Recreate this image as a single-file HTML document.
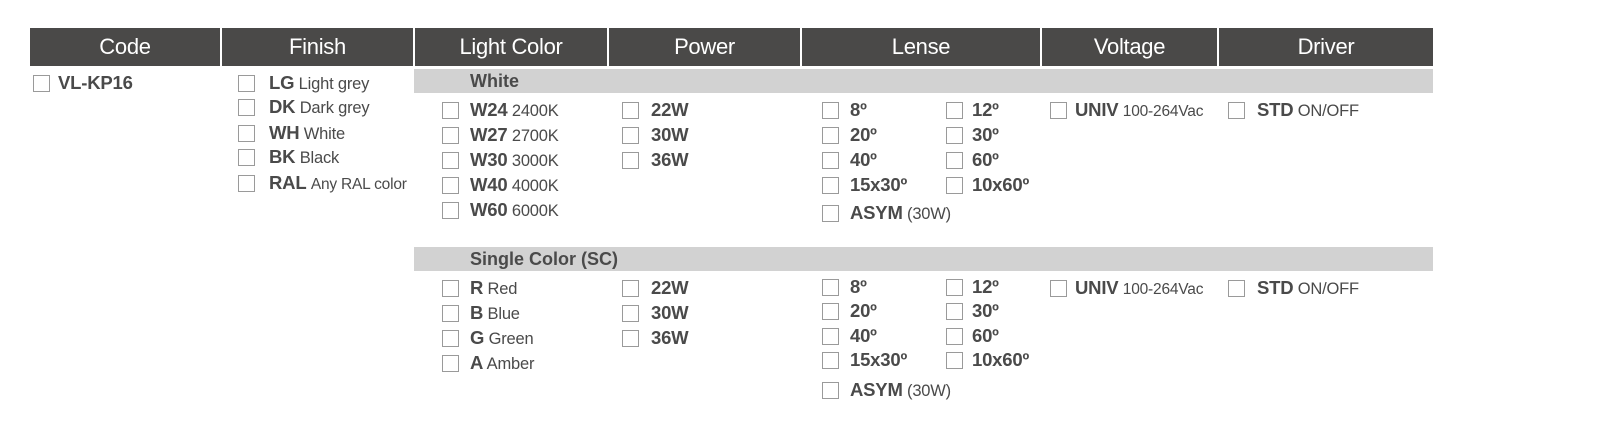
<!DOCTYPE html>
<html><head><meta charset="utf-8"><style>
body{margin:0;width:1600px;height:428px;background:#fff;position:relative;overflow:hidden;font-family:"Liberation Sans",sans-serif;color:#4a4a4a}
.h{position:absolute;top:28px;height:38px;background:#4a4948;color:#fff;font-size:22px;line-height:38px;text-align:center;letter-spacing:-0.3px}
.bar{position:absolute;left:414px;width:1019px;height:24px;background:#d2d2d2;font-weight:bold;font-size:18px;line-height:24px;padding-left:56px;box-sizing:border-box}
.i{position:absolute;height:20px;line-height:20px;font-size:16.5px;white-space:nowrap;letter-spacing:-0.2px}
.i b{font-size:18.5px}
.c{position:absolute;left:0;top:2px;width:15px;height:15px;border:1px solid #9a9a9a;background:#fff}
</style></head><body>
<div class="h" style="left:30px;width:190px">Code</div>
<div class="h" style="left:222px;width:191px">Finish</div>
<div class="h" style="left:415px;width:192px">Light Color</div>
<div class="h" style="left:609px;width:191px">Power</div>
<div class="h" style="left:802px;width:238px">Lense</div>
<div class="h" style="left:1042px;width:175px">Voltage</div>
<div class="h" style="left:1219px;width:214px">Driver</div>

<div class="bar" style="top:69px">White</div>
<div class="bar" style="top:247px">Single Color (SC)</div>

<div class="i" style="left:33px;top:73px;padding-left:25px"><span class="c"></span><b>VL-KP16</b></div>

<div class="i" style="left:238px;top:73px;padding-left:31px"><span class="c"></span><b>LG</b> Light grey</div>
<div class="i" style="left:238px;top:97px;padding-left:31px"><span class="c"></span><b>DK</b> Dark grey</div>
<div class="i" style="left:238px;top:123px;padding-left:31px"><span class="c"></span><b>WH</b> White</div>
<div class="i" style="left:238px;top:147px;padding-left:31px"><span class="c"></span><b>BK</b> Black</div>
<div class="i" style="left:238px;top:173px;padding-left:31px"><span class="c"></span><b>RAL</b> <span style="font-size:15.5px">Any RAL color</span></div>

<div class="i" style="left:442px;top:100px;padding-left:28px"><span class="c"></span><b>W24</b> 2400K</div>
<div class="i" style="left:442px;top:125px;padding-left:28px"><span class="c"></span><b>W27</b> 2700K</div>
<div class="i" style="left:442px;top:150px;padding-left:28px"><span class="c"></span><b>W30</b> 3000K</div>
<div class="i" style="left:442px;top:175px;padding-left:28px"><span class="c"></span><b>W40</b> 4000K</div>
<div class="i" style="left:442px;top:200px;padding-left:28px"><span class="c"></span><b>W60</b> 6000K</div>

<div class="i" style="left:622px;top:100px;padding-left:29px"><span class="c"></span><b>22W</b></div>
<div class="i" style="left:622px;top:125px;padding-left:29px"><span class="c"></span><b>30W</b></div>
<div class="i" style="left:622px;top:150px;padding-left:29px"><span class="c"></span><b>36W</b></div>

<div class="i" style="left:822px;top:100px;padding-left:28px"><span class="c"></span><b>8º</b></div>
<div class="i" style="left:822px;top:125px;padding-left:28px"><span class="c"></span><b>20º</b></div>
<div class="i" style="left:822px;top:150px;padding-left:28px"><span class="c"></span><b>40º</b></div>
<div class="i" style="left:822px;top:175px;padding-left:28px"><span class="c"></span><b>15x30º</b></div>
<div class="i" style="left:822px;top:203px;padding-left:28px"><span class="c"></span><b>ASYM</b> (30W)</div>
<div class="i" style="left:946px;top:100px;padding-left:26px"><span class="c"></span><b>12º</b></div>
<div class="i" style="left:946px;top:125px;padding-left:26px"><span class="c"></span><b>30º</b></div>
<div class="i" style="left:946px;top:150px;padding-left:26px"><span class="c"></span><b>60º</b></div>
<div class="i" style="left:946px;top:175px;padding-left:26px"><span class="c"></span><b>10x60º</b></div>

<div class="i" style="left:1050px;top:100px;padding-left:25px"><span class="c"></span><b>UNIV</b> <span style="font-size:15.5px">100-264Vac</span></div>
<div class="i" style="left:1228px;top:100px;padding-left:29px"><span class="c"></span><b>STD</b> ON/OFF</div>

<div class="i" style="left:442px;top:278px;padding-left:28px"><span class="c"></span><b>R</b> Red</div>
<div class="i" style="left:442px;top:303px;padding-left:28px"><span class="c"></span><b>B</b> Blue</div>
<div class="i" style="left:442px;top:328px;padding-left:28px"><span class="c"></span><b>G</b> Green</div>
<div class="i" style="left:442px;top:353px;padding-left:28px"><span class="c"></span><b>A</b> Amber</div>

<div class="i" style="left:622px;top:278px;padding-left:29px"><span class="c"></span><b>22W</b></div>
<div class="i" style="left:622px;top:303px;padding-left:29px"><span class="c"></span><b>30W</b></div>
<div class="i" style="left:622px;top:328px;padding-left:29px"><span class="c"></span><b>36W</b></div>

<div class="i" style="left:822px;top:277px;padding-left:28px"><span class="c"></span><b>8º</b></div>
<div class="i" style="left:822px;top:301px;padding-left:28px"><span class="c"></span><b>20º</b></div>
<div class="i" style="left:822px;top:326px;padding-left:28px"><span class="c"></span><b>40º</b></div>
<div class="i" style="left:822px;top:350px;padding-left:28px"><span class="c"></span><b>15x30º</b></div>
<div class="i" style="left:822px;top:380px;padding-left:28px"><span class="c"></span><b>ASYM</b> (30W)</div>
<div class="i" style="left:946px;top:277px;padding-left:26px"><span class="c"></span><b>12º</b></div>
<div class="i" style="left:946px;top:301px;padding-left:26px"><span class="c"></span><b>30º</b></div>
<div class="i" style="left:946px;top:326px;padding-left:26px"><span class="c"></span><b>60º</b></div>
<div class="i" style="left:946px;top:350px;padding-left:26px"><span class="c"></span><b>10x60º</b></div>

<div class="i" style="left:1050px;top:278px;padding-left:25px"><span class="c"></span><b>UNIV</b> <span style="font-size:15.5px">100-264Vac</span></div>
<div class="i" style="left:1228px;top:278px;padding-left:29px"><span class="c"></span><b>STD</b> ON/OFF</div>
</body></html>
